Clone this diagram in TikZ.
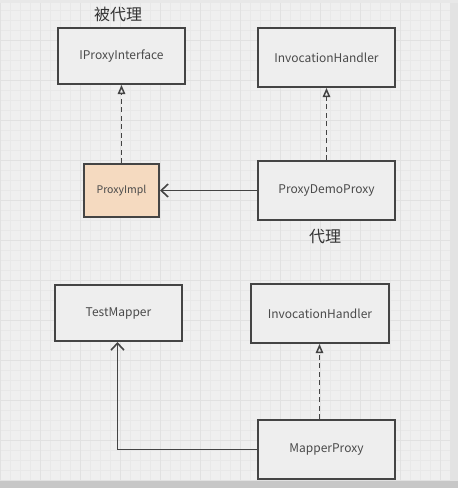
\documentclass[tikz,border=0pt]{standalone}
\usepackage{fontspec}
\setmainfont{Noto Sans CJK SC}
\usetikzlibrary{arrows.meta}
\definecolor{bg}{HTML}{EFEFEF}
\definecolor{gridminor}{HTML}{E8E8E8}
\definecolor{gridmajor}{HTML}{E1E1E1}
\definecolor{boxline}{HTML}{444444}
\definecolor{boxfill}{HTML}{EEEEEE}
\definecolor{peach}{HTML}{F5DAC0}
\definecolor{txt}{HTML}{4A4A4A}
\tikzset{
  cls/.style={draw=boxline, line width=2pt, fill=boxfill, text=txt, anchor=north west, inner sep=0pt, font=\fontsize{12}{14}\selectfont},
  realize/.style={draw=boxline, line width=1.7pt, dash pattern=on 5pt off 3.5pt, -{Triangle[open, length=9pt, width=7.5pt, line width=1.5pt]}},
  assoc/.style={draw=boxline, line width=1.7pt, -{Straight Barb[length=7pt, width=13pt, line width=1.6pt]}},
  cjk/.style={text=black!80, font=\fontsize{16}{18}\selectfont}
}
\begin{document}
\begin{tikzpicture}[x=1pt,y=-1pt]
\useasboundingbox (0,0) rectangle (458,488);
\fill[bg] (0,0) rectangle (458,488);
\draw[gridminor, line width=0.4pt] (0,0) grid[step=10pt] (450,480);
\draw[gridmajor, line width=0.6pt] (0,0) grid[step=40pt] (450,480);
\fill[black!11] (450,0) rectangle (458,488);
\fill[black!22] (0,481) rectangle (458,488);
\fill[black!9] (0,0) rectangle (458,3);

\node[cls, minimum width=127pt, minimum height=56pt] (ipi) at (57,27) {IProxyInterface};
\node[cls, minimum width=137pt, minimum height=59pt] (ih1) at (257,27) {InvocationHandler};
\node[cls, fill=peach, minimum width=75pt, minimum height=53pt, font=\fontsize{10.5}{12}\selectfont] (impl) at (83,163) {ProxyImpl};
\node[cls, minimum width=137pt, minimum height=59pt] (pdp) at (257,160) {ProxyDemoProxy};

\node[cjk] (lbl1) at (118,14) {被代理};
\node[cjk] (lbl2) at (325,237) {代理};

\node[cls, minimum width=127pt, minimum height=56pt] (tm) at (54,284) {TestMapper};
\node[cls, minimum width=138pt, minimum height=59pt] (ih2) at (250,283) {InvocationHandler};
\node[cls, minimum width=137pt, minimum height=59pt] (mp) at (257,419) {MapperProxy};

\draw[realize] (impl.north) -- (impl.north |- ipi.south);
\draw[realize] (pdp.north) -- (pdp.north |- ih1.south);
\draw[assoc] (pdp.west) -- (impl.east);

\draw[realize] ([xshift=-7pt]mp.north) -- ([xshift=-7pt]mp.north |- ih2.south);
\coordinate (corner) at ([xshift=-1pt]tm.south |- mp.west);
\draw[assoc] (mp.west) -- (corner) -- (corner |- tm.south);
\end{tikzpicture}
\end{document}
